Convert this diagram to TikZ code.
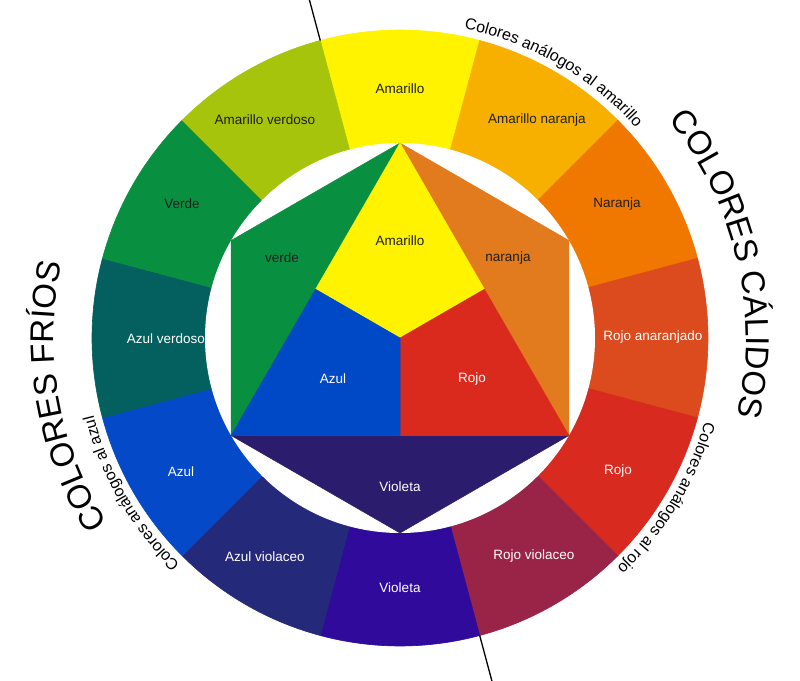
\documentclass[tikz,border=0pt]{standalone}
\usepackage{fontspec}
\setmainfont{Liberation Sans}
\usetikzlibrary{decorations.text,calc}
\definecolor{cAm}{HTML}{FFF300}
\definecolor{cAmN}{HTML}{F8B000}
\definecolor{cNa}{HTML}{F07800}
\definecolor{cRoA}{HTML}{DC4B1E}
\definecolor{cRo}{HTML}{D92A1F}
\definecolor{cRoV}{HTML}{992447}
\definecolor{cVi}{HTML}{2F0A9B}
\definecolor{cAzV}{HTML}{24297A}
\definecolor{cAz}{HTML}{0449C7}
\definecolor{cAzVe}{HTML}{04605F}
\definecolor{cVe}{HTML}{089040}
\definecolor{cAmVe}{HTML}{A6C40C}
\definecolor{iOr}{HTML}{E27A1E}
\definecolor{iRe}{HTML}{DA2A1E}
\definecolor{iBl}{HTML}{0049C6}
\definecolor{iVi}{HTML}{2C1C6E}
\definecolor{txtdark}{HTML}{1E1E1E}
\begin{document}
\begin{tikzpicture}[x=1pt,y=1pt,
  lbl/.style={font=\fontsize{13.5}{15}\selectfont, text=txtdark, inner sep=0pt},
  lblw/.style={lbl, text=white},
  wedge/.style={fill=#1, draw=#1, line width=0.6pt},
  piece/.style={fill=#1, draw=#1, line width=0.5pt, line join=round},
  arctext/.style={decorate, decoration={text along path, text align=center, text={#1}}}
]
\useasboundingbox (-400,-342) rectangle (400,338);
\fill[white] (-400,-342) rectangle (400,338);
% outer ring
\foreach \a/\c in {90/cAm, 60/cAmN, 30/cNa, 0/cRoA, -30/cRo, -60/cRoV, -90/cVi, -120/cAzV, -150/cAz, -180/cAzVe, -210/cVe, -240/cAmVe} {
  \path[wedge=\c] (0,0) -- ({\a+15}:308) arc[start angle={\a+15}, end angle={\a-15}, radius=308] -- cycle;
}
\fill[white] (0,0) circle (195);
% inner figure
\coordinate (O) at (0,0);
\coordinate (T) at (90:195);
\coordinate (UL) at (150:195);
\coordinate (BL) at (210:195);
\coordinate (B) at (270:195);
\coordinate (BR) at (330:195);
\coordinate (UR) at (30:195);
\coordinate (mL) at ($(T)!0.5!(BL)$);
\coordinate (mR) at ($(T)!0.5!(BR)$);
\coordinate (mB) at ($(BL)!0.5!(BR)$);
\path[piece=cVe] (T) -- (UL) -- (BL) -- cycle;
\path[piece=iOr] (T) -- (UR) -- (BR) -- cycle;
\path[piece=iVi] (BL) -- (B) -- (BR) -- cycle;
\path[piece=cAm] (T) -- (mR) -- (O) -- (mL) -- cycle;
\path[piece=iRe] (mR) -- (BR) -- (mB) -- (O) -- cycle;
\path[piece=iBl] (mL) -- (O) -- (mB) -- (BL) -- cycle;
% outer labels
\node[lbl]  (oAm)   at (0,249)    {Amarillo};
\node[lbl]  (oAmN)  at (137,218)  {Amarillo naranja};
\node[lbl]  (oNa)   at (217,134)  {Naranja};
\node[lblw] (oRoA)  at (253,1)    {Rojo anaranjado};
\node[lblw] (oRo)   at (218,-133) {Rojo};
\node[lblw] (oRoV)  at (134,-218) {Rojo violaceo};
\node[lblw] (oVi)   at (0,-250)   {Violeta};
\node[lblw] (oAzV)  at (-135,-219){Azul violaceo};
\node[lblw] (oAz)   at (-219,-134){Azul};
\node[lblw] (oAzVe) at (-234,-1)  {Azul verdoso};
\node[lbl]  (oVe)   at (-218,134) {Verde};
\node[lbl]  (oAmVe) at (-135,218) {Amarillo verdoso};
% inner labels
\node[lbl]  (iAmL) at (0,97)     {Amarillo};
\node[lbl]  (iVeL) at (-118,80)  {verde};
\node[lbl]  (iNaL) at (108,80)   {naranja};
\node[lblw] (iAzL) at (-67,-41)  {Azul};
\node[lblw] (iRoL) at (72,-41)   {Rojo};
\node[lblw] (iViL) at (0,-149)   {Violeta};
% dividing line
\coordinate (la) at (105:308);
\coordinate (lb) at (105:352);
\coordinate (lc) at (-75:308);
\coordinate (ld) at (-75:356);
\draw[line width=1.3pt] (la) -- (lb);
\draw[line width=1.3pt] (lc) -- (ld);
% curved texts
\path[arctext={|\fontsize{16}{16}\selectfont|Colores análogos al amarillo}] (110:316) arc[start angle=110, end angle=10, radius=316];
\path[arctext={|\fontsize{16}{16}\selectfont|Colores análogos al rojo}] (19:316) arc[start angle=19, end angle=-81, radius=316];
\path[arctext={|\fontsize{16}{16}\selectfont|Colores análogos al azul}] (260:316) arc[start angle=260, end angle=160, radius=316];
\path[arctext={|\fontsize{33}{33}\selectfont|COLORES CÁLIDOS}] (63:346) arc[start angle=63, end angle=-37, radius=346];
\path[arctext={|\fontsize{33}{33}\selectfont|COLORES FRÍOS}] (240:346) arc[start angle=240, end angle=140, radius=346];
\end{tikzpicture}
\end{document}
